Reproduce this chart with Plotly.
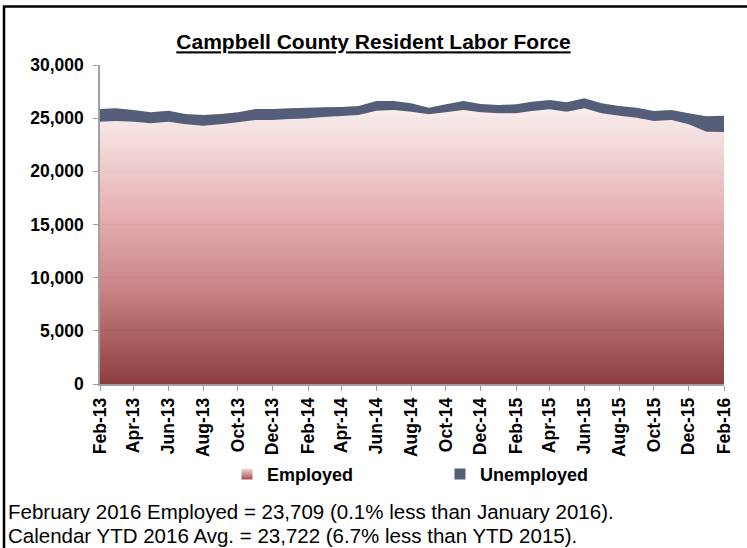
import pandas as pd
import plotly.graph_objects as go

# Monthly, Feb-2013 .. Feb-2016
months = pd.date_range("2013-02-01", "2016-02-01", freq="MS")

employed = [24665, 24735, 24665, 24515, 24665, 24420, 24295, 24420, 24605, 24825,
            24825, 24920, 24985, 25105, 25205, 25295, 25705, 25765, 25605, 25365,
            25545, 25765, 25545, 25455, 25455, 25675, 25835, 25605, 25925, 25455,
            25235, 25045, 24735, 24825, 24420, 23733, 23709]

unemployed = [1195, 1190, 1100, 1030, 1040, 970, 1000, 970, 940, 1035,
              1035, 1005, 1000, 910, 840, 850, 910, 850, 790, 620,
              760, 850, 785, 780, 850, 870, 870, 890, 940, 940,
              910, 940, 940, 940, 1035, 1440, 1510]

title_text = "Campbell County Resident Labor Force"
note_lines = ["February 2016 Employed = 23,709 (0.1% less than January 2016).",
              "Calendar YTD 2016 Avg. = 23,722 (6.7% less than YTD 2015)."]

FONT = "Liberation Sans, Arial, sans-serif"
UNEMP_COLOR = "#555e79"

fig = go.Figure()
fig.add_trace(go.Scatter(
    x=months, y=employed, name="Employed", stackgroup="lf", mode="none",
    fillgradient=dict(type="vertical", start=0, stop=25500,
                      colorscale=[[0, "rgba(132,46,48,0.93)"],
                                  [0.35, "rgba(196,122,124,0.93)"],
                                  [0.6, "rgba(226,165,168,0.93)"],
                                  [1, "rgba(248,234,234,0.93)"]]),
    showlegend=False, hoverinfo="skip"))
fig.add_trace(go.Scatter(
    x=months, y=unemployed, name="Unemployed", stackgroup="lf", mode="none",
    fillcolor=UNEMP_COLOR, showlegend=False, hoverinfo="skip"))

# legend entries
fig.add_trace(go.Scatter(
    x=[None], y=[None], mode="markers", name="Employed",
    marker=dict(symbol="square", size=11, color="#f3d9da",
                gradient=dict(type="vertical", color="#a84a4c"))))
fig.add_trace(go.Scatter(
    x=[None], y=[None], mode="markers", name="Unemployed",
    marker=dict(symbol="square", size=11, color=UNEMP_COLOR)))

fig.update_layout(
    width=747, height=548,
    margin=dict(l=100, r=23, t=65, b=164),
    paper_bgcolor="white", plot_bgcolor="white",
    font=dict(family=FONT, color="black"),
    title=dict(text="<b><u>" + title_text + "</u></b>", x=0.5, xref="container",
               xanchor="center", y=1 - 42 / 548, yanchor="middle",
               font=dict(size=21, family=FONT, color="black")),
    legend=dict(orientation="h", x=0.2035, xanchor="left", y=-0.283, yanchor="middle",
                traceorder="normal",
                font=dict(size=18, family=FONT, color="black", weight="bold"),
                itemwidth=30, entrywidth=168, entrywidthmode="pixels",
                bgcolor="rgba(0,0,0,0)"),
    showlegend=True,
)

fig.update_xaxes(
    type="date", range=[months[0], months[-1]],
    tick0=months[0], dtick="M2", tickformat="%b-%y", tickangle=-90,
    ticks="outside", ticklen=5, tickcolor="#a0a0a0",
    showline=True, linecolor="#a0a0a0", linewidth=1.5, showgrid=False,
    tickfont=dict(size=17.5, family=FONT, color="black", weight="bold"),
)
fig.update_yaxes(
    range=[0, 30000], dtick=5000, tickformat=",",
    ticks="outside", ticklen=5, tickcolor="#a0a0a0",
    showline=True, linecolor="#a0a0a0", linewidth=1.5,
    showgrid=True, gridcolor="#b8b8b8", gridwidth=1,
    ticklabelstandoff=6,
    tickfont=dict(size=17.5, family=FONT, color="black", weight="bold"),
)

# note text, one annotation per line
for i, line in enumerate(note_lines):
    fig.add_annotation(
        text=line, xref="paper", yref="paper",
        x=-94 / 624, y=-(512 + 23 * i - 384) / 319, xanchor="left", yanchor="middle",
        align="left", showarrow=False,
        font=dict(size=20.5, family=FONT, color="black"))

# outer chart border (extends past right/bottom of the picture)
fig.add_shape(type="rect", xref="paper", yref="paper",
              x0=-96 / 624, x1=1.2, y0=(384 - 6.5) / 319, y1=-0.7,
              line=dict(color="black", width=2.5), fillcolor="rgba(0,0,0,0)",
              layer="above")

fig.write_html("out.html", config={"displayModeBar": False},
               post_script="document.body.style.margin='0';")
